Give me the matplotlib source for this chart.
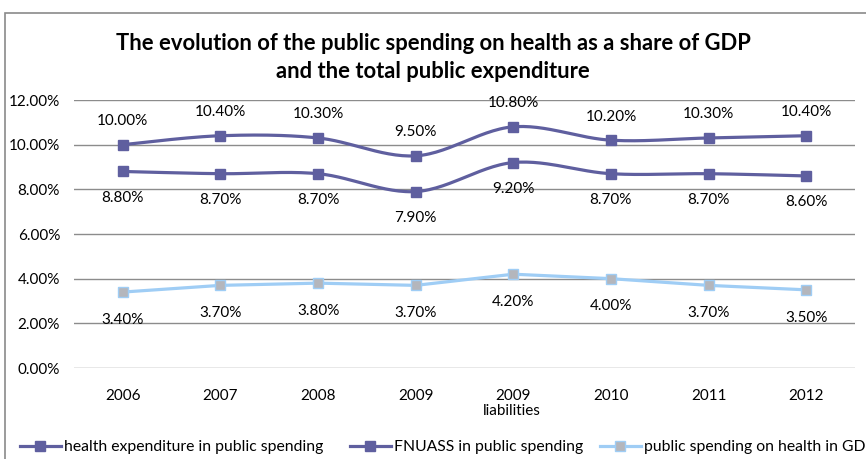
import numpy as np
import matplotlib.pyplot as plt
from matplotlib.lines import Line2D
from matplotlib.patches import Rectangle

plt.rcParams['font.family'] = ['Lato', 'DejaVu Sans']

# Data
years = ['2006', '2007', '2008', '2009', '2009', '2010', '2011', '2012']
health_public = [10.0, 10.4, 10.3, 9.5, 10.8, 10.2, 10.3, 10.4]
fnuass_public = [8.8, 8.7, 8.7, 7.9, 9.2, 8.7, 8.7, 8.6]
health_gdp = [3.4, 3.7, 3.8, 3.7, 4.2, 4.0, 3.7, 3.5]

dark = '#5f5f9f'
light_line = '#9fcdf5'
light_mark = '#b4b6bc'


# smooth curve through the points (Catmull-Rom style, like Excel "smoothed line")
def smooth(x, y, n=30):
    x = np.asarray(x, float)
    y = np.asarray(y, float)
    px = np.concatenate([[x[0]], x, [x[-1]]])
    py = np.concatenate([[y[0]], y, [y[-1]]])
    xs, ys = [], []
    for i in range(1, len(px) - 2):
        p0, p1, p2, p3 = [np.array([px[j], py[j]]) for j in (i - 1, i, i + 1, i + 2)]
        c1 = p1 + (p2 - p0) / 6
        c2 = p2 - (p3 - p1) / 6
        t = np.linspace(0, 1, n)[:, None]
        b = ((1 - t) ** 3) * p1 + 3 * ((1 - t) ** 2) * t * c1 + 3 * (1 - t) * t ** 2 * c2 + t ** 3 * p2
        xs.extend(b[:, 0])
        ys.extend(b[:, 1])
    return np.array(xs), np.array(ys)


fig = plt.figure(figsize=(8.66, 4.59), dpi=100)
ax = fig.add_axes([74 / 866, 91 / 459, 781 / 866, 268 / 459])

x = np.arange(len(years))

for vals in (health_public, fnuass_public):
    sx, sy = smooth(x, vals)
    ax.plot(sx, sy, color=dark, lw=2.3, zorder=3)
    ax.plot(x, vals, ls='none', marker='s', ms=6.5, color=dark, zorder=4)

ax.plot(x, health_gdp, color=light_line, lw=2.3, marker='s', ms=6.5,
        markerfacecolor=light_mark, markeredgecolor=light_line, zorder=3)

# data labels
fs = 11
for xi, v in zip(x, health_public):
    ax.annotate(f'{v:.2f}%', (xi, v), xytext=(0, 17), textcoords='offset points',
                ha='center', va='center', fontsize=fs)
for xi, v in zip(x, fnuass_public):
    ax.annotate(f'{v:.2f}%', (xi, v), xytext=(0, -19), textcoords='offset points',
                ha='center', va='center', fontsize=fs)
for xi, v in zip(x, health_gdp):
    ax.annotate(f'{v:.2f}%', (xi, v), xytext=(0, -20), textcoords='offset points',
                ha='center', va='center', fontsize=fs)

ax.set_xlim(-0.5, len(years) - 0.5)
ax.set_ylim(0, 12)
ax.set_yticks(np.arange(0, 12.1, 2))
ax.set_yticklabels([f'{t:.2f}%' for t in np.arange(0, 12.1, 2)], fontsize=fs)
ax.set_xticks(x)
ax.set_xticklabels(years, fontsize=fs)
ax.tick_params(length=0)
ax.tick_params(axis='y', pad=10)
ax.tick_params(axis='x', pad=15)
ax.grid(axis='y', color='#8c8c8c', lw=1)
ax.set_axisbelow(True)
for s in ax.spines.values():
    s.set_visible(False)

fig.text(512 / 866, 1 - 411 / 459, 'liabilities', ha='center', va='center', fontsize=fs)

fig.text(0.5, 1 - 43 / 459, 'The evolution of the public spending on health as a share of GDP',
         ha='center', va='center', fontsize=15.8, fontweight='bold')
fig.text(0.5, 1 - 72 / 459, 'and the total public expenditure',
         ha='center', va='center', fontsize=15.8, fontweight='bold')

# outer chart border
fig.patches.append(Rectangle((5 / 866, -0.1), 1.2, 1 - 13 / 459 + 0.1, transform=fig.transFigure,
                             fill=False, edgecolor='#8a8a8a', lw=1.2))

# legend, three entries along the bottom
entries = [
    ('health expenditure in public spending', dark, dark, 20),
    ('FNUASS in public spending', dark, dark, 350),
    ('public spending on health in GDP', light_line, light_mark, 600),
]
for label, lc, mc, px in entries:
    h = Line2D([], [], color=lc, lw=2.3, marker='s', ms=6.5, markerfacecolor=mc, markeredgecolor=lc)
    fig.legend([h], [label], loc='center left', bbox_to_anchor=(px / 866, 1 - 447 / 459),
               frameon=False, fontsize=11.3, handlelength=2.6, handletextpad=0.2,
               borderaxespad=0, borderpad=0)

fig.savefig('out.png', dpi=100)
